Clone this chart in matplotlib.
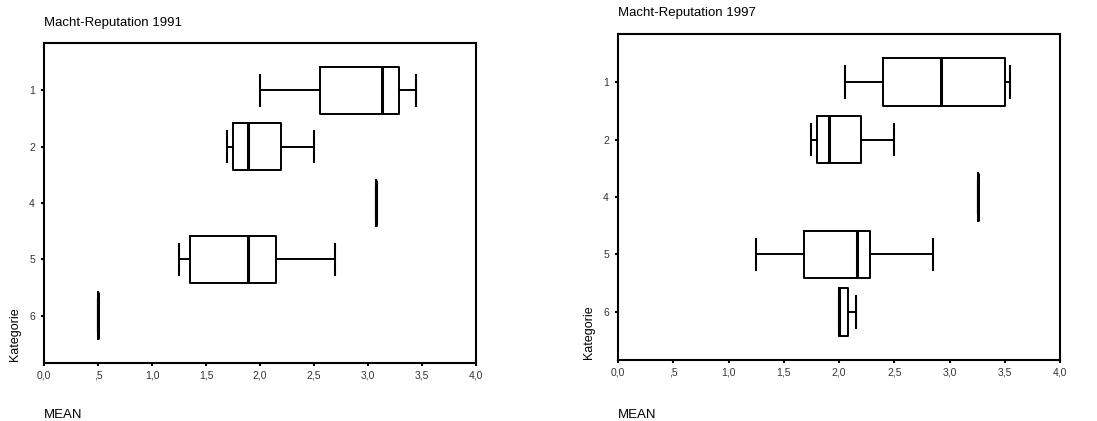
import matplotlib.pyplot as plt

plt.rcParams['font.family'] = ['Liberation Sans', 'DejaVu Sans']

# Kategorien (von oben nach unten)
categories = ['1', '2', '4', '5', '6']
x_ticks = [0.0, 0.5, 1.0, 1.5, 2.0, 2.5, 3.0, 3.5, 4.0]
x_ticklabels = ['0,0', ',5', '1,0', '1,5', '2,0', '2,5', '3,0', '3,5', '4,0']

# Macht-Reputation 1991
whislo_91 = [2.00, 1.69, 3.07, 1.25, 0.50]
q1_91 = [2.56, 1.75, 3.07, 1.35, 0.50]
med_91 = [3.13, 1.89, 3.07, 1.89, 0.50]
q3_91 = [3.29, 2.19, 3.07, 2.15, 0.50]
whishi_91 = [3.44, 2.50, 3.07, 2.69, 0.50]

# Macht-Reputation 1997
whislo_97 = [2.05, 1.75, 3.26, 1.25, 2.00]
q1_97 = [2.40, 1.80, 3.26, 1.68, 2.00]
med_97 = [2.92, 1.91, 3.26, 2.16, 2.00]
q3_97 = [3.50, 2.20, 3.26, 2.28, 2.08]
whishi_97 = [3.55, 2.50, 3.26, 2.85, 2.15]


def make_stats(lo, q1, med, q3, hi):
    stats = []
    for i in range(len(categories)):
        stats.append({'whislo': lo[i], 'q1': q1[i], 'med': med[i],
                      'q3': q3[i], 'whishi': hi[i], 'fliers': []})
    return stats


def draw_panel(ax, stats, title, fig_x, title_y):
    pos = list(range(len(categories)))
    ax.bxp(stats, positions=pos, orientation='horizontal', widths=0.83,
           capwidths=0.55, showfliers=False,
           boxprops=dict(color='black', linewidth=1.4),
           whiskerprops=dict(color='black', linewidth=1.4),
           capprops=dict(color='black', linewidth=1.5),
           medianprops=dict(color='black', linewidth=2.2))
    ax.set_xlim(0, 4)
    ax.set_ylim(4.84, -0.84)
    ax.set_yticks(pos)
    ax.set_yticklabels(categories)
    ax.set_xticks(x_ticks)
    ax.set_xticklabels(x_ticklabels)
    for s in ax.spines.values():
        s.set_linewidth(1.5)
    ax.tick_params(axis='both', direction='out', length=2.5, width=1.5,
                   labelsize=7.5, labelcolor='#333333', top=False, right=False)
    ax.tick_params(axis='y', pad=4)
    ax.tick_params(axis='x', pad=3)
    fig.text(fig_x, title_y, title, fontsize=9.5, ha='left', va='center')
    fig.text(fig_x, 1 - 415 / 421, 'MEAN', fontsize=9.5, ha='left', va='center')


fig = plt.figure(figsize=(10.97, 4.21), dpi=100)

ax1 = fig.add_axes([44 / 1097, 1 - 363 / 421, 432 / 1097, 320 / 421])
draw_panel(ax1, make_stats(whislo_91, q1_91, med_91, q3_91, whishi_91),
           'Macht-Reputation 1991', 44 / 1097, 1 - 23 / 421)
fig.text(15 / 1097, 1 - 361 / 421, 'Kategorie', rotation=90, fontsize=9,
         ha='center', va='bottom')

ax2 = fig.add_axes([618 / 1097, 1 - 360 / 421, 442 / 1097, 326 / 421])
draw_panel(ax2, make_stats(whislo_97, q1_97, med_97, q3_97, whishi_97),
           'Macht-Reputation 1997', 618 / 1097, 1 - 13 / 421)
fig.text(589 / 1097, 1 - 359 / 421, 'Kategorie', rotation=90, fontsize=9,
         ha='center', va='bottom')

fig.savefig('out.png', dpi=100)
